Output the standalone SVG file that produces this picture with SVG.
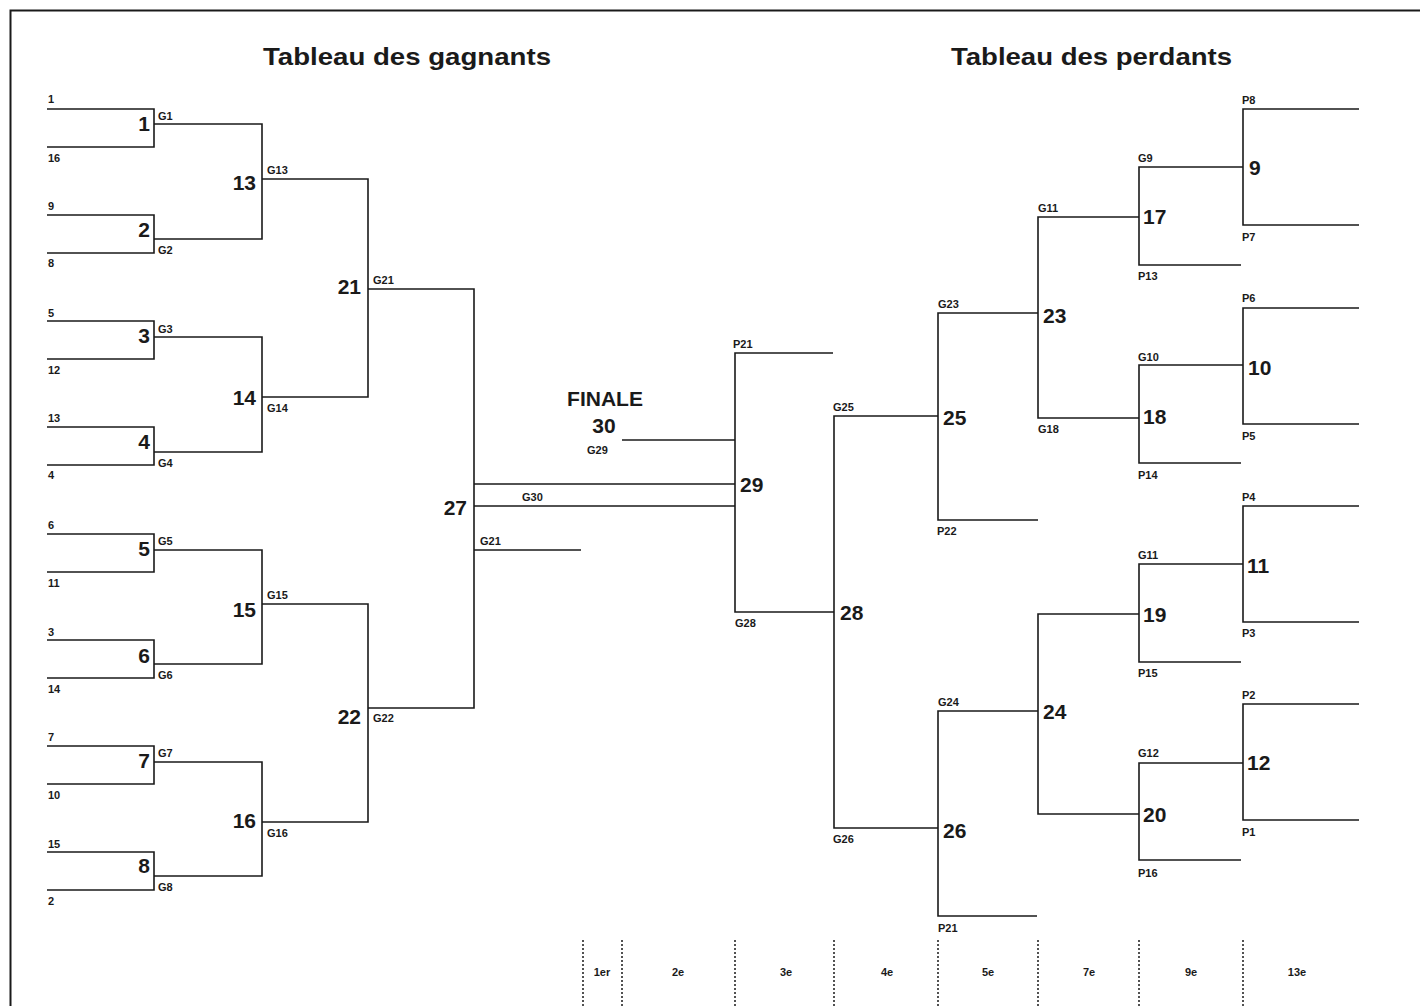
<svg xmlns="http://www.w3.org/2000/svg" width="1420" height="1006" viewBox="0 0 1420 1006">
<style>
.ln{fill:none;stroke:#1a1a1a;stroke-width:1.6}
.dot{fill:none;stroke:#1a1a1a;stroke-width:1.5;stroke-dasharray:2 2}
.t{font-family:"Liberation Sans",Arial,sans-serif;font-weight:bold;fill:#1a1a1a}
.big{font-size:21px}
.sm{font-size:11px}
.ttl{font-size:24px}
.e{text-anchor:end}
.m{text-anchor:middle}
</style>
<rect x="10.5" y="10.5" width="1420" height="1010" fill="none" stroke="#1a1a1a" stroke-width="2"/>
<g id="titles">
<text class="t ttl" x="263" y="65" textLength="288" lengthAdjust="spacingAndGlyphs">Tableau des gagnants</text>
<text class="t ttl" x="951" y="65" textLength="281" lengthAdjust="spacingAndGlyphs">Tableau des perdants</text>
</g>
<g id="connectors">
<path class="ln" d="M47 109H154V147H47"/>
<path class="ln" d="M47 215H154V253H47"/>
<path class="ln" d="M154 124H262V239H154"/>
<path class="ln" d="M47 321H154V359H47"/>
<path class="ln" d="M47 427H154V465H47"/>
<path class="ln" d="M154 337H262V452H154"/>
<path class="ln" d="M262 179H368V397H262"/>
<path class="ln" d="M47 534H154V572H47"/>
<path class="ln" d="M47 640H154V678H47"/>
<path class="ln" d="M154 550H262V664H154"/>
<path class="ln" d="M47 746H154V784H47"/>
<path class="ln" d="M47 852H154V890H47"/>
<path class="ln" d="M154 762H262V876H154"/>
<path class="ln" d="M262 604H368V822H262"/>
<path class="ln" d="M368 289H474V708H368"/>
<path class="ln" d="M474 484H735M474 506H735M474 550H581"/>
<path class="ln" d="M622 440H735"/>
<path class="ln" d="M833 353H735V612H834"/>
<path class="ln" d="M938 416H834V828H938"/>
<path class="ln" d="M1038 313H938V520H1038"/>
<path class="ln" d="M1038 711H938V916H1037"/>
<path class="ln" d="M1139 217H1038V418H1139"/>
<path class="ln" d="M1139 614H1038V814H1139"/>
<path class="ln" d="M1243 167H1139V265H1241"/>
<path class="ln" d="M1243 365H1139V463H1241"/>
<path class="ln" d="M1243 564H1139V662H1241"/>
<path class="ln" d="M1243 763H1139V860H1241"/>
<path class="ln" d="M1359 109H1243V225H1359"/>
<path class="ln" d="M1359 308H1243V424H1359"/>
<path class="ln" d="M1359 506H1243V622H1359"/>
<path class="ln" d="M1359 704H1243V820H1359"/>
</g>
<g id="seeds" class="t sm">
<text x="48" y="103">1</text><text x="48" y="162">16</text>
<text x="48" y="210">9</text><text x="48" y="267">8</text>
<text x="48" y="317">5</text><text x="48" y="374">12</text>
<text x="48" y="422">13</text><text x="48" y="479">4</text>
<text x="48" y="529">6</text><text x="48" y="587">11</text>
<text x="48" y="636">3</text><text x="48" y="693">14</text>
<text x="48" y="741">7</text><text x="48" y="799">10</text>
<text x="48" y="848">15</text><text x="48" y="905">2</text>
</g>
<g id="m1"><text class="t big e" x="150" y="131">1</text><text class="t sm" x="158" y="120">G1</text></g>
<g id="m2"><text class="t big e" x="150" y="237">2</text><text class="t sm" x="158" y="254">G2</text></g>
<g id="m3"><text class="t big e" x="150" y="343">3</text><text class="t sm" x="158" y="333">G3</text></g>
<g id="m4"><text class="t big e" x="150" y="449">4</text><text class="t sm" x="158" y="467">G4</text></g>
<g id="m5"><text class="t big e" x="150" y="556">5</text><text class="t sm" x="158" y="545">G5</text></g>
<g id="m6"><text class="t big e" x="150" y="663">6</text><text class="t sm" x="158" y="679">G6</text></g>
<g id="m7"><text class="t big e" x="150" y="768">7</text><text class="t sm" x="158" y="757">G7</text></g>
<g id="m8"><text class="t big e" x="150" y="873">8</text><text class="t sm" x="158" y="891">G8</text></g>
<g id="m13"><text class="t big e" x="256" y="190">13</text><text class="t sm" x="267" y="174">G13</text></g>
<g id="m14"><text class="t big e" x="256" y="405">14</text><text class="t sm" x="267" y="412">G14</text></g>
<g id="m15"><text class="t big e" x="256" y="617">15</text><text class="t sm" x="267" y="599">G15</text></g>
<g id="m16"><text class="t big e" x="256" y="828">16</text><text class="t sm" x="267" y="837">G16</text></g>
<g id="m21"><text class="t big e" x="361" y="294">21</text><text class="t sm" x="373" y="284">G21</text></g>
<g id="m22"><text class="t big e" x="361" y="724">22</text><text class="t sm" x="373" y="722">G22</text></g>
<g id="m27"><text class="t big e" x="467" y="515">27</text><text class="t sm" x="522" y="501">G30</text><text class="t sm" x="480" y="545">G21</text></g>
<g id="m30"><text class="t big m" x="605" y="406">FINALE</text><text class="t big m" x="604" y="433">30</text><text class="t sm" x="587" y="454">G29</text></g>
<g id="m29"><text class="t big" x="740" y="492">29</text><text class="t sm" x="733" y="348">P21</text><text class="t sm" x="735" y="627">G28</text></g>
<g id="m28"><text class="t big" x="840" y="620">28</text><text class="t sm" x="833" y="411">G25</text><text class="t sm" x="833" y="843">G26</text></g>
<g id="m25"><text class="t big" x="943" y="425">25</text><text class="t sm" x="938" y="308">G23</text><text class="t sm" x="937" y="535">P22</text></g>
<g id="m26"><text class="t big" x="943" y="838">26</text><text class="t sm" x="938" y="706">G24</text><text class="t sm" x="938" y="932">P21</text></g>
<g id="m23"><text class="t big" x="1043" y="323">23</text><text class="t sm" x="1038" y="212">G11</text><text class="t sm" x="1038" y="433">G18</text></g>
<g id="m24"><text class="t big" x="1043" y="719">24</text></g>
<g id="m17"><text class="t big" x="1143" y="224">17</text><text class="t sm" x="1138" y="162">G9</text><text class="t sm" x="1138" y="280">P13</text></g>
<g id="m18"><text class="t big" x="1143" y="424">18</text><text class="t sm" x="1138" y="361">G10</text><text class="t sm" x="1138" y="479">P14</text></g>
<g id="m19"><text class="t big" x="1143" y="622">19</text><text class="t sm" x="1138" y="559">G11</text><text class="t sm" x="1138" y="677">P15</text></g>
<g id="m20"><text class="t big" x="1143" y="822">20</text><text class="t sm" x="1138" y="757">G12</text><text class="t sm" x="1138" y="877">P16</text></g>
<g id="m9"><text class="t big" x="1249" y="175">9</text><text class="t sm" x="1242" y="104">P8</text><text class="t sm" x="1242" y="241">P7</text></g>
<g id="m10"><text class="t big" x="1248" y="375">10</text><text class="t sm" x="1242" y="302">P6</text><text class="t sm" x="1242" y="440">P5</text></g>
<g id="m11"><text class="t big" x="1247" y="573">11</text><text class="t sm" x="1242" y="501">P4</text><text class="t sm" x="1242" y="637">P3</text></g>
<g id="m12"><text class="t big" x="1247" y="770">12</text><text class="t sm" x="1242" y="699">P2</text><text class="t sm" x="1242" y="836">P1</text></g>
<g id="legend">
<path class="dot" d="M583 940V1006M622 940V1006M735 940V1006M834 940V1006M938 940V1006M1038 940V1006M1139 940V1006M1243 940V1006"/>
<g class="t sm m">
<text x="602" y="976">1er</text><text x="678" y="976">2e</text><text x="786" y="976">3e</text><text x="887" y="976">4e</text>
<text x="988" y="976">5e</text><text x="1089" y="976">7e</text><text x="1191" y="976">9e</text><text x="1297" y="976">13e</text>
</g>
</g>
</svg>
